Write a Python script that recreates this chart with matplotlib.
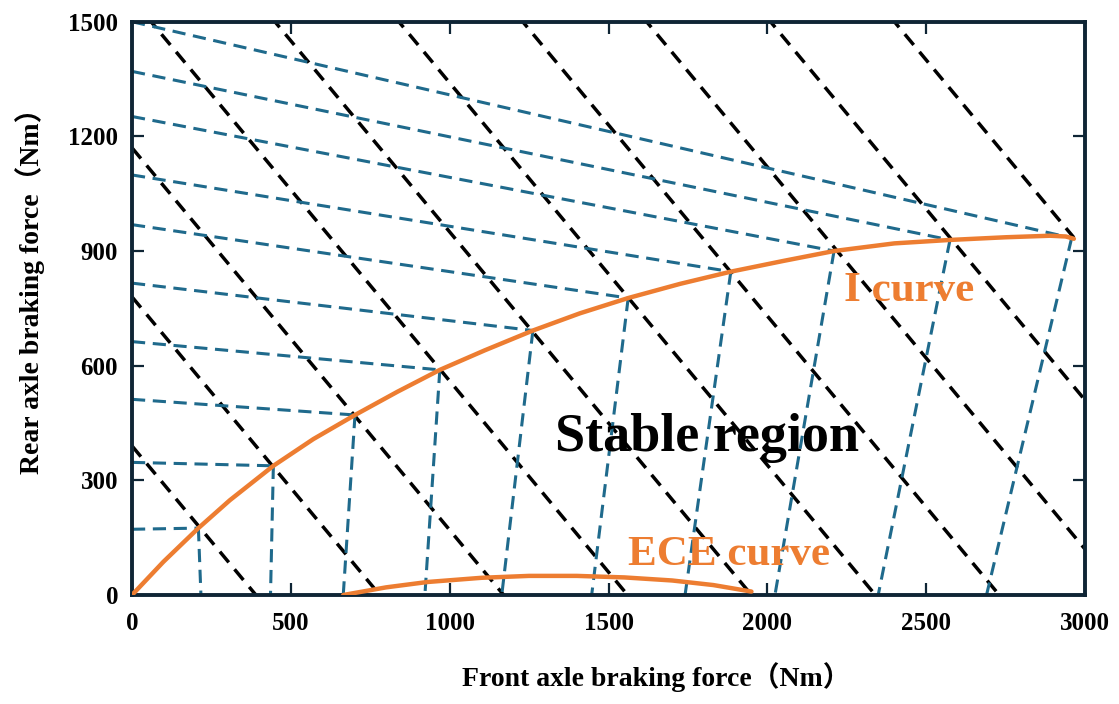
import numpy as np
import matplotlib
matplotlib.use("Agg")
import matplotlib.pyplot as plt

### Figure parameters ###
my_dpi = 100
serif = ['Liberation Serif', 'Noto Sans CJK SC']
orange = '#ED7D31'
blue = '#1F6A8C'
navy = '#0F2535'

# I curve (ideal braking force distribution)
i_x = [0, 99, 209, 308, 445, 571, 702, 836, 969, 1110, 1262, 1410, 1562,
       1725, 1885, 2050, 2210, 2400, 2575, 2750, 2890, 2940, 2965]
i_y = [0, 87, 175, 248, 338, 408, 471, 532, 589, 640, 692, 737, 777,
       814, 846, 874, 900, 920, 929, 936, 940, 938, 932]

# ECE regulation curve
ece_x = [665, 800, 930, 1100, 1250, 1400, 1550, 1700, 1830, 1950]
ece_y = [0, 20, 34, 45, 50, 50, 46, 38, 26, 9]

# constant deceleration lines: Ff + Fr = c
dec_c = [390, 780, 1170, 1560, 1950, 2340, 2730, 3120, 3510, 3900]

# points on the I curve where r-lines and f-lines meet
p_x = [209, 445, 702, 969, 1262, 1562, 1885, 2210, 2575, 2958]
p_y = [175, 338, 471, 589, 692, 777, 846, 900, 929, 934]
# r-lines start on the rear axis, f-lines end on the front axis
r0 = [172, 347, 512, 663, 816, 969, 1099, 1252, 1370, 1500]
f0 = [217, 436, 665, 922, 1164, 1447, 1741, 2024, 2349, 2690]

plt.rcParams['lines.scale_dashes'] = False

fig = plt.figure(figsize=(1119/my_dpi, 704/my_dpi), dpi=my_dpi)
ax = fig.add_axes([132/1119, 1-595/704, 953/1119, 573.3/704])

# black dashed deceleration lines
for k, c in enumerate(dec_c):
    x_hi = min(c, 3000)
    if k == len(dec_c) - 1:
        x_hi = i_x[-1]
    xs = np.array([0, x_hi])
    ax.plot(xs, c - xs, color='black', lw=2.5, dashes=(10, 6.5), zorder=2)

# blue dashed r-lines and f-lines
for k in range(len(p_x)):
    ax.plot([0, p_x[k]], [r0[k], p_y[k]], color=blue, lw=2.2,
            dashes=(9.5, 5.5), zorder=2)
    ax.plot([p_x[k], f0[k]], [p_y[k], 0], color=blue, lw=2.2,
            dashes=(9.5, 5.5), zorder=2)

ax.plot(i_x, i_y, color=orange, lw=3.2, solid_capstyle='round',
        solid_joinstyle='round', zorder=3)
ax.plot(ece_x, ece_y, color=orange, lw=3.2, solid_capstyle='round',
        solid_joinstyle='round', zorder=3)

ax.text(1810, 410, 'Stable region', fontsize=39, fontweight='bold',
        family=serif, color='black', ha='center', va='center', zorder=4)
ax.text(2445, 795, 'I curve', fontsize=31, fontweight='bold',
        family=serif, color=orange, ha='center', va='center', zorder=4)
ax.text(1880, 105, 'ECE curve', fontsize=31, fontweight='bold',
        family=serif, color=orange, ha='center', va='center', zorder=4)

ax.set_xlim(0, 3000)
ax.set_ylim(0, 1500)
ax.set_xticks([0, 500, 1000, 1500, 2000, 2500, 3000])
ax.set_yticks([0, 300, 600, 900, 1200, 1500])
ax.tick_params(direction='in', top=True, right=True, length=8.5, width=1.6,
               color=navy)
ax.tick_params(axis='x', pad=12)
ax.tick_params(axis='y', pad=10)
for lab in ax.get_xticklabels() + ax.get_yticklabels():
    lab.set_family(serif)
    lab.set_fontweight('bold')
    lab.set_fontsize(18)
for sp in ax.spines.values():
    sp.set_linewidth(2.8)
    sp.set_color(navy)

fig.text(656/1119, 1-677/704, 'Front axle braking force（Nm）', fontsize=20,
         fontweight='bold', family=serif, ha='center', va='center')
fig.text(30/1119, 1-284/704, 'Rear axle braking force（Nm）', fontsize=20,
         fontweight='bold', family=serif, ha='center', va='center',
         rotation=90)

plt.savefig('out.png', dpi=my_dpi)
